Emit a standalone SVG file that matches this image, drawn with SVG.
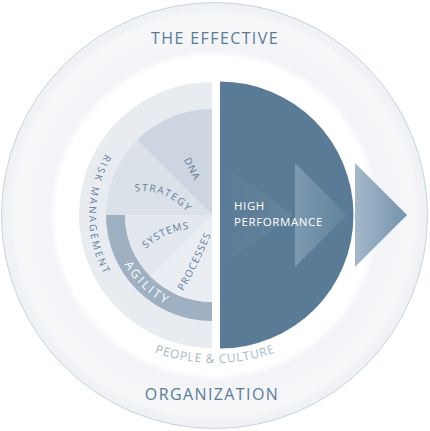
<svg xmlns="http://www.w3.org/2000/svg" width="430" height="431" viewBox="0 0 430 431">
<defs>
<style>
text{font-family:"Open Sans","DejaVu Sans",sans-serif;}
.title{font-size:16px;fill:#5b7b97;letter-spacing:1.4px;text-anchor:middle;}
.lbl{font-size:10px;fill:#5f7d99;text-anchor:middle;}
</style>
<radialGradient id="bg" cx="214.5" cy="215.5" r="213.5" gradientUnits="userSpaceOnUse">
<stop offset="0" stop-color="#ffffff"/>
<stop offset="0.742" stop-color="#ffffff"/>
<stop offset="0.775" stop-color="#f2f4f7"/>
<stop offset="0.94" stop-color="#f6f7f9"/>
<stop offset="0.96" stop-color="#f1f3f6"/>
<stop offset="1" stop-color="#eef1f4"/>
</radialGradient>
<linearGradient id="g1" x1="0" y1="0" x2="1" y2="0">
<stop offset="0" stop-color="#ffffff" stop-opacity="0"/>
<stop offset="1" stop-color="#ffffff" stop-opacity="0.07"/>
</linearGradient>
<linearGradient id="g2" x1="0" y1="0" x2="1" y2="0">
<stop offset="0" stop-color="#82a0b7"/>
<stop offset="1" stop-color="#628399"/>
</linearGradient>
<linearGradient id="g3" x1="0" y1="0" x2="1" y2="0">
<stop offset="0" stop-color="#a3b8ca"/>
<stop offset="1" stop-color="#7593ac"/>
</linearGradient>
<path id="pRisk" d="M111.3,144.4 A123,123 0 0 0 111.3,285.6"/>
<path id="pAgil" d="M113,232.4 A100.5,100.5 0 0 0 199.7,314.7"/>
<path id="pStrat" d="M115,198.5 A56,56 0 0 1 196.8,231.6"/>
<path id="pSys" d="M131.7,266.4 A75.7,75.7 0 0 1 212.3,230"/>
<path id="pProc" d="M181.5,294 Q199.5,263 212.5,231"/>
<path id="pPeople" d="M112.9,330.8 A178,178 0 0 0 317.1,330.8"/>
</defs>

<g id="background">
<circle cx="214.5" cy="215.5" r="213" fill="url(#bg)" stroke="#c9d3dd" stroke-width="1"/>
</g>

<g id="titles">
<text class="title" x="215" y="44">THE EFFECTIVE</text>
<text class="title" x="212" y="400">ORGANIZATION</text>
</g>

<g id="risk-management">
<path d="M212,82 A133,133 0 0 0 212,348 Z" fill="#e8ecf1"/>
<text class="lbl" style="letter-spacing:2.3px"><textPath href="#pRisk" startOffset="50%">RISK MANAGEMENT</textPath></text>
</g>

<g id="dna">
<path d="M212,215 L212,109 A106,106 0 0 0 137.05,140.05 Z" fill="#cdd6e0"/>
<text class="lbl" style="letter-spacing:1px" transform="translate(192.3,169) rotate(64)" x="0" y="3.5">DNA</text>
</g>

<g id="strategy">
<path d="M212,215 L137.05,140.05 A106,106 0 0 0 106,215 Z" fill="#dbe1e8"/>
<text class="lbl" style="letter-spacing:1.4px"><textPath href="#pStrat" startOffset="50%">STRATEGY</textPath></text>
</g>

<g id="agility">
<path d="M106,215 A106,106 0 0 0 212,321 L212,302 A87,87 0 0 1 125,215 Z" fill="#9eb0c2"/>
<text class="lbl" style="font-size:12px;letter-spacing:2.5px;fill:#ffffff"><textPath href="#pAgil" startOffset="50%">AGILITY</textPath></text>
</g>

<g id="systems">
<path d="M212,215 L125,215 A87,87 0 0 0 150.48,276.52 Z" fill="#e3e8ee"/>
<text class="lbl" style="letter-spacing:1px"><textPath href="#pSys" startOffset="50%">SYSTEMS</textPath></text>
</g>

<g id="processes">
<path d="M212,215 L150.48,276.52 A87,87 0 0 0 212,302 Z" fill="#eaedf2"/>
<text class="lbl" style="letter-spacing:1.1px"><textPath href="#pProc" startOffset="50%">PROCESSES</textPath></text>
</g>

<g id="high-performance">
<path d="M220,81.5 A133.5,133.5 0 0 1 220,348.5 Z" fill="#5a7b96"/>
<polygon points="221,163 293,215 221,267" fill="url(#g1)"/>
<polygon points="295,163 347,215 295,267" fill="url(#g2)" opacity="0.85"/>
<text x="234" y="210" style="font-size:11.5px;fill:#ffffff;letter-spacing:0.6px">HIGH</text>
<text x="234" y="226" style="font-size:11.5px;fill:#ffffff;letter-spacing:0.6px">PERFORMANCE</text>
</g>

<g id="connectors">
<polygon id="arrow-out" points="355,163 407,215 355,267" fill="url(#g3)"/>
</g>

<g id="people-culture">
<text class="lbl" style="font-size:12px;letter-spacing:0.8px;fill:#a6b7c8"><textPath href="#pPeople" startOffset="50%">PEOPLE &amp; CULTURE</textPath></text>
</g>
</svg>
